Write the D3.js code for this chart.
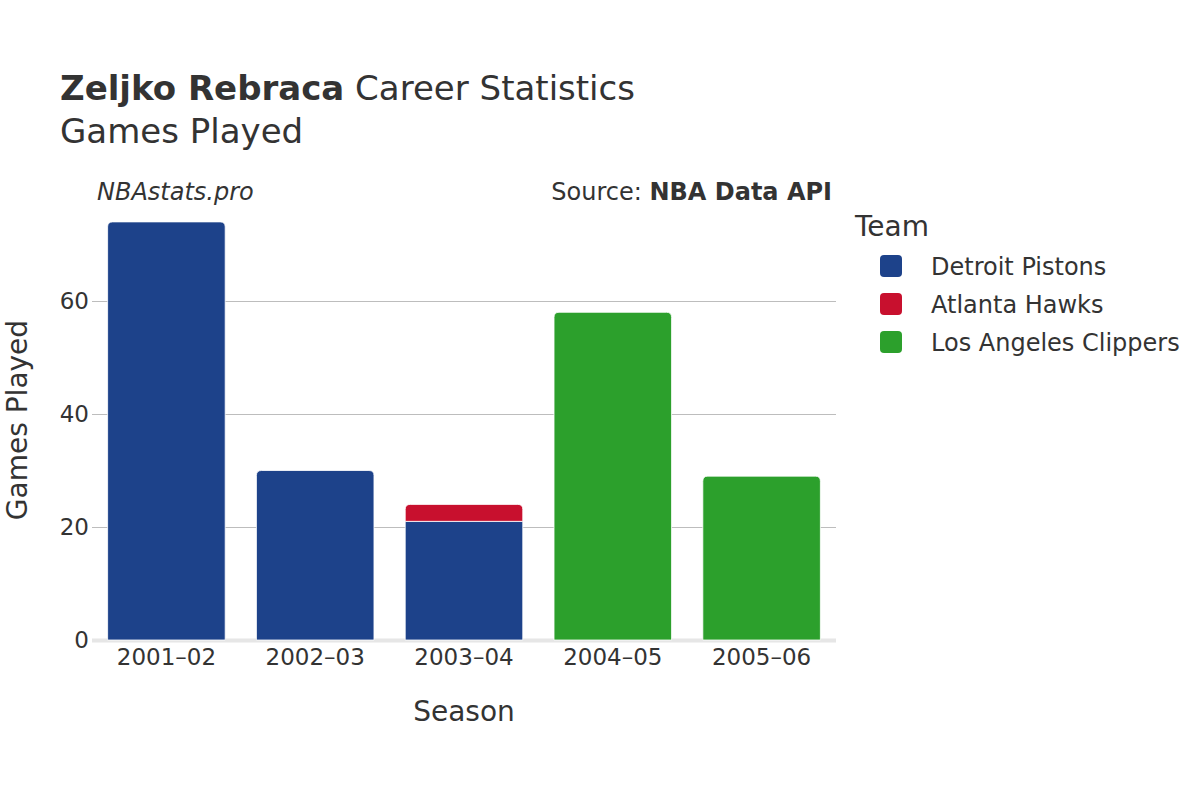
<!DOCTYPE html>
<html>
<head>
<meta charset="utf-8">
<script src="https://cdn.jsdelivr.net/npm/d3@7"></script>
<style>
  body { margin: 0; background: #fff; }
  svg { font-family: "DejaVu Sans", sans-serif; }
</style>
</head>
<body>
<svg id="chart" width="1200" height="800"></svg>
<script>
const seasons = ["2001\u201302", "2002\u201303", "2003\u201304", "2004\u201305", "2005\u201306"];
const teams = ["Detroit Pistons", "Atlanta Hawks", "Los Angeles Clippers"];
const teamColors = ["#1d428a", "#c8102e", "#2ca02c"];
// games per season, one array per team
const detroitGames = [74, 30, 21, 0, 0];
const atlantaGames = [0, 0, 3, 0, 0];
const clippersGames = [0, 0, 0, 58, 29];
const yTicks = [0, 20, 40, 60];

const svg = d3.select("#chart");
const margin = { left: 92, right: 836, top: 200, bottom: 640 };

const x = d3.scaleBand().domain(seasons).range([margin.left, margin.right]).paddingInner(0.21).paddingOuter(0.105);
const y = d3.scaleLinear().domain([0, 78]).range([margin.bottom, margin.bottom - 78 * 5.65]);
const color = d3.scaleOrdinal().domain(teams).range(teamColors);

const rows = seasons.map((s, i) => ({
  season: s,
  "Detroit Pistons": detroitGames[i],
  "Atlanta Hawks": atlantaGames[i],
  "Los Angeles Clippers": clippersGames[i]
}));
const stacked = d3.stack().keys(teams)(rows);

// grid
svg.append("g").selectAll("line")
  .data(yTicks.filter(d => d > 0))
  .enter().append("line")
  .attr("x1", margin.left).attr("x2", margin.right)
  .attr("y1", d => y(d) + 0.5).attr("y2", d => y(d) + 0.5)
  .attr("stroke", "#bdbdbd").attr("stroke-width", 1.2);

// baseline
svg.append("line")
  .attr("x1", margin.left).attr("x2", margin.right)
  .attr("y1", y(0) + 0.5).attr("y2", y(0) + 0.5)
  .attr("stroke", "#e6e6e6").attr("stroke-width", 4);

// top-rounded bar path
function barPath(x0, y0, w, h, r) {
  r = Math.min(r, h, w / 2);
  return `M${x0},${y0 + h}V${y0 + r}Q${x0},${y0} ${x0 + r},${y0}H${x0 + w - r}Q${x0 + w},${y0} ${x0 + w},${y0 + r}V${y0 + h}Z`;
}

// is this segment the top of its stack?
function isTop(layerIndex, i) {
  for (let k = layerIndex + 1; k < stacked.length; k++) {
    if (stacked[k][i][1] - stacked[k][i][0] > 0) return false;
  }
  return true;
}

stacked.forEach((layer, li) => {
  svg.append("g")
    .selectAll("path")
    .data(layer.map((d, i) => ({ d, i })).filter(o => o.d[1] - o.d[0] > 0))
    .enter().append("path")
    .attr("d", o => {
      const x0 = x(o.d.data.season), w = x.bandwidth();
      const y0 = y(o.d[1]), h = y(o.d[0]) - y(o.d[1]);
      return barPath(x0, y0, w, h, isTop(li, o.i) ? 5 : 0);
    })
    .attr("fill", color(layer.key))
    .attr("stroke", "#fff").attr("stroke-width", 0.8);
});

// y axis
const yAxis = svg.append("g")
  .attr("transform", `translate(${margin.left},0)`)
  .call(d3.axisLeft(y).tickValues(yTicks).tickSize(0).tickPadding(3));
yAxis.select(".domain").remove();
yAxis.selectAll("text").attr("font-size", 23).attr("fill", "#333").attr("font-family", "DejaVu Sans");

// x axis
const xAxis = svg.append("g")
  .attr("transform", `translate(0,${margin.bottom})`)
  .call(d3.axisBottom(x).tickSize(0).tickPadding(7));
xAxis.select(".domain").remove();
xAxis.selectAll("text").attr("font-size", 23).attr("fill", "#333").attr("font-family", "DejaVu Sans").attr("dy", "0.8em");

// titles
const title = svg.append("text").attr("x", 60).attr("y", 100).attr("font-size", 34).attr("fill", "#333");
title.append("tspan").attr("font-weight", "bold").text("Zeljko Rebraca");
title.append("tspan").text(" Career Statistics");
svg.append("text").attr("x", 60).attr("y", 143).attr("font-size", 34).attr("fill", "#333").text("Games Played");

svg.append("text").attr("x", 97).attr("y", 200).attr("font-size", 24).attr("font-style", "italic").attr("fill", "#333").text("NBAstats.pro");
const src = svg.append("text").attr("x", 832).attr("y", 200).attr("text-anchor", "end").attr("font-size", 24).attr("fill", "#333");
src.append("tspan").text("Source: ");
src.append("tspan").attr("font-weight", "bold").text("NBA Data API");

svg.append("text").attr("x", 464).attr("y", 721).attr("text-anchor", "middle").attr("font-size", 28).attr("fill", "#333").text("Season");
svg.append("text").attr("transform", "translate(27,420) rotate(-90)").attr("text-anchor", "middle").attr("font-size", 28).attr("fill", "#333").text("Games Played");

// legend
const legend = svg.append("g");
legend.append("text").attr("x", 855).attr("y", 236).attr("font-size", 28).attr("fill", "#333").text("Team");
const items = legend.selectAll("g.item").data(teams).enter().append("g")
  .attr("transform", (d, i) => `translate(0,${266 + i * 38})`);
items.append("rect").attr("x", 880).attr("y", -11).attr("width", 22).attr("height", 22).attr("rx", 4)
  .attr("fill", d => color(d));
items.append("text").attr("x", 931).attr("y", 9).attr("font-size", 24).attr("fill", "#333").text(d => d);
</script>
</body>
</html>
